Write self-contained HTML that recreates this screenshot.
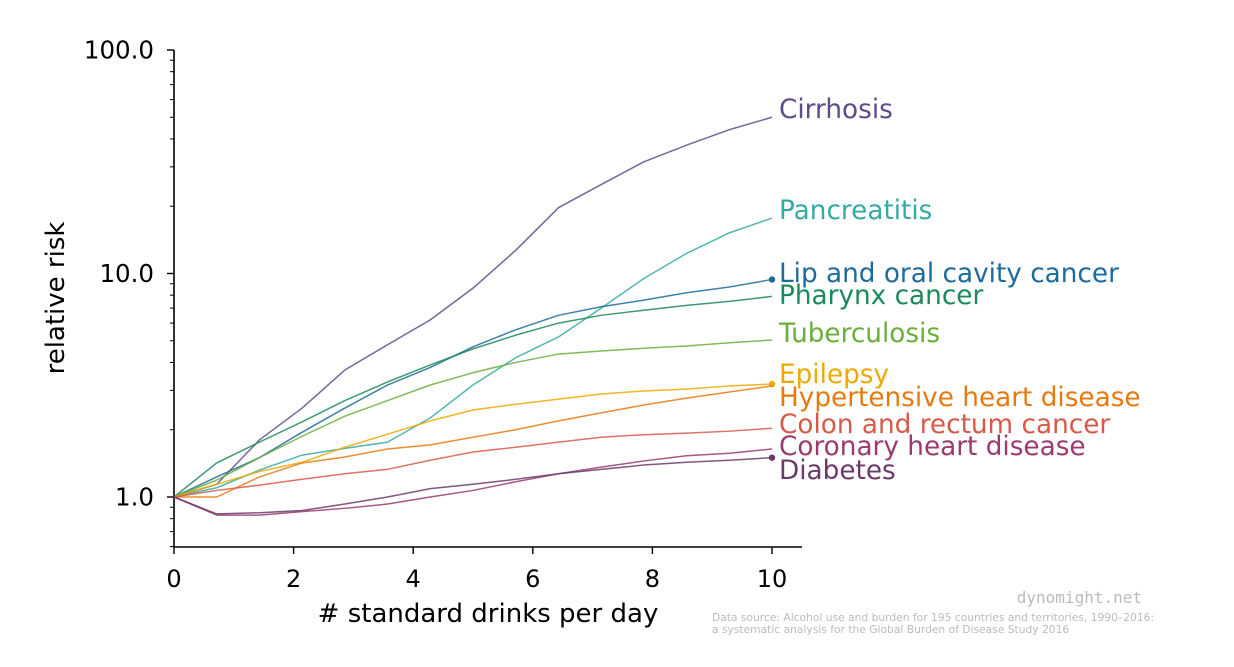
<!DOCTYPE html>
<html><head><meta charset="utf-8"><style>
body{margin:0;background:#fff}
svg text{font-family:"DejaVu Sans","Liberation Sans",sans-serif}
</style></head><body>
<svg id="chart" width="1234" height="662" viewBox="0 0 1234 662" xmlns="http://www.w3.org/2000/svg">
<g id="axes"></g><g id="series"></g><g id="labels"></g>
<text x="0" y="0" transform="translate(64,298) rotate(-90)" text-anchor="middle" font-size="26" fill="#000">relative risk</text>
<text x="488" y="622" text-anchor="middle" font-size="26" fill="#000"># standard drinks per day</text>
<text x="1142" y="603" text-anchor="end" font-size="16" fill="#bbb" style="font-family:'DejaVu Sans Mono','Liberation Mono',monospace">dynomight.net</text>
<text x="712" y="621" font-size="10.7" fill="#bbb">Data source: Alcohol use and burden for 195 countries and territories, 1990–2016:</text>
<text x="712" y="633" font-size="10.7" fill="#bbb"> a systematic analysis for the Global Burden of Disease Study 2016</text>
</svg>
<script>
const drinks=[0,0.714,1.429,2.143,2.857,3.571,4.286,5,5.714,6.429,7.143,7.857,8.571,9.286,10];
const cirrhosis=[1,1.14,1.8,2.5,3.7,4.8,6.2,8.6,12.7,19.7,25,31.6,37.5,44,50];
const pancreatitis=[1,1.1,1.32,1.54,1.65,1.76,2.26,3.17,4.2,5.2,7,9.5,12.3,15.2,17.7];
const lipOral=[1,1.23,1.5,1.95,2.5,3.17,3.8,4.7,5.6,6.5,7.1,7.6,8.2,8.7,9.4];
const pharynx=[1,1.42,1.76,2.17,2.7,3.27,3.9,4.6,5.3,6,6.5,6.85,7.2,7.5,7.9];
const tuberculosis=[1,1.19,1.5,1.87,2.3,2.7,3.17,3.6,4.0,4.36,4.5,4.63,4.74,4.9,5.04];
const epilepsy=[1,1.14,1.3,1.43,1.67,1.91,2.19,2.45,2.6,2.74,2.89,2.98,3.04,3.14,3.2];
const hypertensive=[1,1.0,1.23,1.42,1.51,1.64,1.71,1.85,2.0,2.19,2.38,2.58,2.77,2.95,3.14];
const colon=[1,1.07,1.13,1.2,1.27,1.33,1.46,1.59,1.67,1.76,1.85,1.9,1.93,1.97,2.03];
const coronary=[1,0.83,0.83,0.86,0.89,0.93,1.0,1.07,1.17,1.27,1.36,1.45,1.53,1.57,1.64];
const diabetes=[1,0.84,0.85,0.87,0.93,1.0,1.09,1.14,1.2,1.27,1.33,1.39,1.43,1.46,1.5];
const seriesNames=["Cirrhosis","Pancreatitis","Lip and oral cavity cancer","Pharynx cancer","Tuberculosis","Epilepsy","Hypertensive heart disease","Colon and rectum cancer","Coronary heart disease","Diabetes"];
const xTicks=[0,2,4,6,8,10];
const yMajor=[1,10,100];
const yMajorLabels=["1.0","10.0","100.0"];

const NS="http://www.w3.org/2000/svg";
const X=v=>174+v*59.8;
const Y=v=>497-Math.log10(v)*223.5;
function mk(t,a,p){const e=document.createElementNS(NS,t);for(const k in a)e.setAttribute(k,a[k]);p.appendChild(e);return e;}
const ax=document.getElementById('axes'),sg=document.getElementById('series'),lg=document.getElementById('labels');
let e=mk('line',{x1:174,y1:50,x2:174,y2:547,stroke:'#000','stroke-width':1.6},ax);


e=mk('line',{x1:174,y1:547,x2:802,y2:547,stroke:'#000','stroke-width':1.6},ax);


xTicks.forEach(t=>{
 mk('line',{x1:X(t),y1:547,x2:X(t),y2:554,stroke:'#000','stroke-width':1.4},ax);
 e=mk('text',{x:X(t),y:587,'text-anchor':'middle','font-size':24},ax);e.textContent=t;
 
 
});
yMajor.forEach((t,i)=>{
 mk('line',{x1:167,y1:Y(t),x2:174,y2:Y(t),stroke:'#000','stroke-width':1.4},ax);
 e=mk('text',{x:154,y:Y(t)+8.5,'text-anchor':'end','font-size':24.5},ax);e.textContent=yMajorLabels[i];
 
 
});
[0.6,0.7,0.8,0.9,2,3,4,5,6,7,8,9,20,30,40,50,60,70,80,90].forEach(t=>{
 mk('line',{x1:170,y1:Y(t),x2:174,y2:Y(t),stroke:'#000','stroke-width':1},ax);
});
const data=[cirrhosis,pancreatitis,lipOral,pharynx,tuberculosis,epilepsy,hypertensive,colon,coronary,diabetes];
const colors=["#5e4b8b","#35aaa5","#1d6b9c","#1b8a5a","#6aaf3a","#eea800","#e67a10","#d65a4a","#9a3a6e","#6a3a6a"];
const labelY=[109,210,273,295,333,374,397,424,446,470];
const dots=[2,5,9];
data.forEach((d,i)=>{
 const p=mk('polyline',{points:d.map((v,j)=>X(drinks[j])+','+Y(v)).join(' '),fill:'none',stroke:colors[i],'stroke-width':1.5,'stroke-opacity':0.85,'stroke-linejoin':'round'},sg);
 
 
 if(dots.includes(i)){const c=mk('circle',{cx:X(drinks[14]),cy:Y(d[14]),r:3.2,fill:colors[i]},sg);
  
  }
 const t=mk('text',{x:779,y:labelY[i]+9,'font-size':26.3,fill:colors[i]},lg);t.textContent=seriesNames[i];
 
 
});
</script>
</body></html>
